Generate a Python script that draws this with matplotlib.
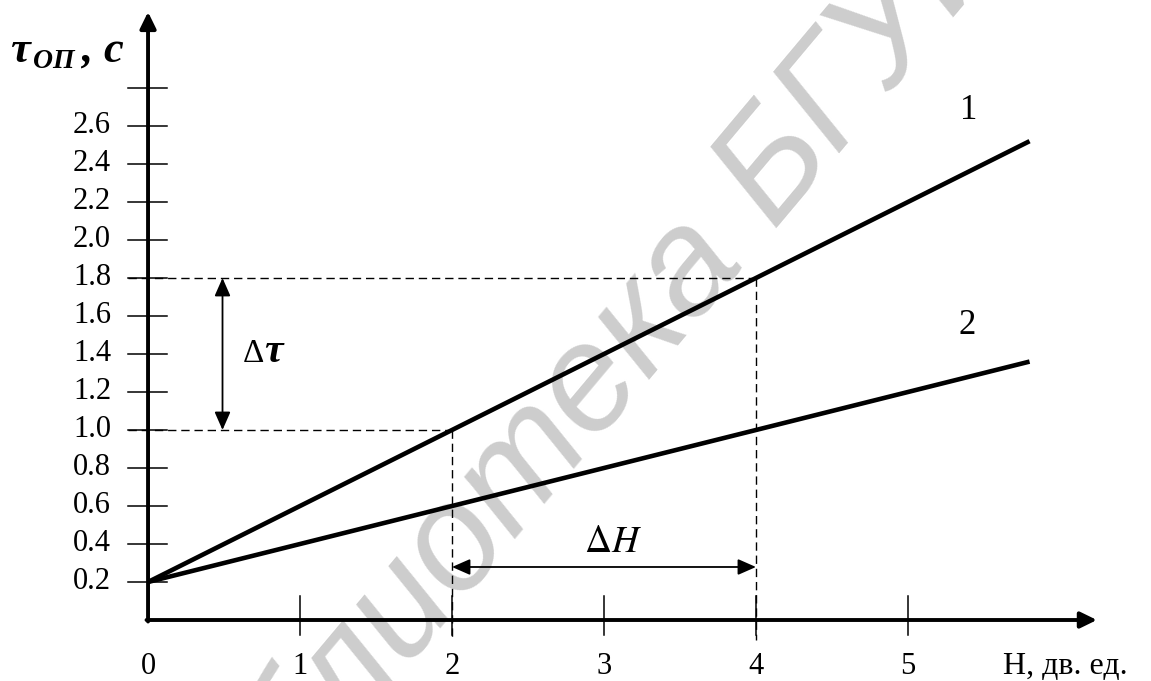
import matplotlib

matplotlib.use("Agg")
import matplotlib.pyplot as plt

plt.rcParams["mathtext.fontset"] = "stix"
SERIF = ["Liberation Serif", "DejaVu Serif"]

# line data: H (дв. ед.) vs tau_op (c)
h_vals = [0.0, 5.8]
tau_line1 = [0.2, 2.52]
tau_line2 = [0.2, 1.36]
line_names = ["1", "2"]

y_ticks = [0.2, 0.4, 0.6, 0.8, 1.0, 1.2, 1.4, 1.6, 1.8, 2.0, 2.2, 2.4, 2.6, 2.8]
y_labels = ["0.2", "0.4", "0.6", "0.8", "1.0", "1.2", "1.4", "1.6", "1.8",
            "2.0", "2.2", "2.4", "2.6", ""]
x_ticks = [1, 2, 3, 4, 5]
x_labels = ["0", "1", "2", "3", "4", "5"]

# the two readings marked on line 1
h_a, h_b = 2.0, 4.0
tau_a, tau_b = 1.0, 1.8

fig = plt.figure(figsize=(11.51, 6.81), dpi=100)
ax = fig.add_axes([0, 0, 1, 1])
ax.set_xlim(-0.974, 6.599)
ax.set_ylim(-0.321, 3.263)
ax.axis("off")

# watermark
ax.text(3.0, 1.3, "Библиотека БГУИР", rotation=50, color="#cdcdcd",
        fontsize=108, family="Liberation Sans", style="italic",
        ha="center", va="center", zorder=0)

# axes with arrows
arr = dict(arrowstyle="-|>,head_length=0.45,head_width=0.22", lw=2.8,
           color="k", mutation_scale=22, shrinkA=0, shrinkB=0)
ax.annotate("", xy=(6.243, 0), xytext=(-0.01, 0), arrowprops=arr, zorder=5)
ax.annotate("", xy=(0, 3.2), xytext=(0, -0.008), arrowprops=arr, zorder=5)

# ticks
for yt, lab in zip(y_ticks, y_labels):
    ax.plot([-0.13, 0.125], [yt, yt], color="k", lw=1.1, zorder=4)
    if lab:
        ax.text(-0.243, yt - 0.037, lab, ha="right", va="baseline",
                fontsize=22, family=SERIF)
for xt in x_ticks:
    ax.plot([xt, xt], [0.126, -0.079], color="k", lw=1.1, zorder=4)
for i, lab in enumerate(x_labels):
    ax.text(i, -0.285, lab, ha="center", va="baseline", fontsize=22, family=SERIF)
ax.text(5.625, -0.285, "H, дв. ед.", ha="left", va="baseline",
        fontsize=23, family=SERIF)

# y axis title
ax.text(-0.905, 2.937, "τ", fontsize=32, family=SERIF, weight="bold",
        style="italic", va="baseline")
ax.text(-0.755, 2.905, "ОП", fontsize=20, family=SERIF, weight="bold",
        style="italic", va="baseline")
ax.text(-0.434, 2.937, ",", fontsize=32, family=SERIF, weight="bold",
        style="italic", va="baseline")
ax.text(-0.296, 2.937, "c", fontsize=32, family=SERIF, weight="bold",
        style="italic", va="baseline")

# lines
ax.plot(h_vals, tau_line1, color="k", lw=3.3, solid_capstyle="butt", zorder=3)
ax.plot(h_vals, tau_line2, color="k", lw=3.3, solid_capstyle="butt", zorder=3)
ax.text(5.40, tau_line1[-1] + 0.16, line_names[0], ha="center", va="center",
        fontsize=25, family=SERIF)
ax.text(5.39, tau_line2[-1] + 0.19, line_names[1], ha="center", va="center",
        fontsize=25, family=SERIF)

# dashed guides
dash = dict(color="k", lw=1.0, dashes=(6, 3.5), zorder=2)
ax.plot([-0.13, h_b], [tau_b, tau_b], **dash)
ax.plot([-0.13, h_a], [tau_a, tau_a], **dash)
ax.plot([h_a, h_a], [tau_a, -0.105], **dash)
ax.plot([h_b, h_b], [tau_b, -0.105], **dash)

# delta arrows
darr = dict(arrowstyle="<|-|>,head_length=0.5,head_width=0.22", lw=1.3,
            color="k", mutation_scale=22, shrinkA=0, shrinkB=0)
ax.annotate("", xy=(0.49, tau_b), xytext=(0.49, tau_a), arrowprops=darr)
ax.annotate("", xy=(h_a, 0.279), xytext=(h_b, 0.279), arrowprops=darr)
ax.text(0.62, 1.40, "Δ", fontsize=24, family=SERIF, ha="left", va="center")
ax.text(0.765, 1.41, "τ", fontsize=30, family=SERIF, weight="bold",
        style="italic", ha="left", va="center")
ax.text(3.06, 0.41, r"$\Delta H$", fontsize=27, ha="center", va="center")

fig.savefig("out.png", dpi=100)
